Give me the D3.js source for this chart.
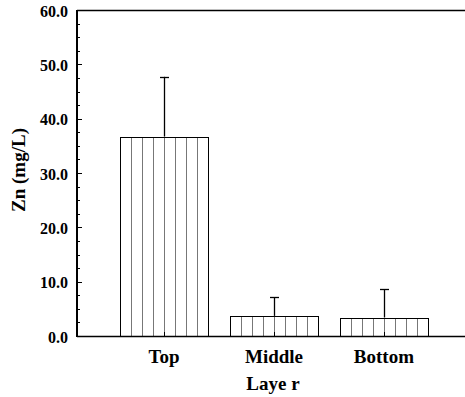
<!DOCTYPE html>
<html>
<head>
<meta charset="utf-8">
<script src="https://cdn.jsdelivr.net/npm/d3@7"></script>
<style>
	body { margin: 0; background: #fff; }
</style>
</head>
<body>
<svg id="chart" width="465" height="397" font-family="'Times New Roman', 'Liberation Serif', 'DejaVu Serif', serif" font-weight="bold"></svg>
<script>
// data
var layers = ["Top", "Middle", "Bottom"];
var zinc = [36.7, 3.7, 3.4];
var zincError = [11.0, 3.4, 5.2];
var yTicks = [0, 10, 20, 30, 40, 50, 60];

var svg = d3.select("#chart");

// plot box (plotTop, not "top": window.top is read-only)
var plotLeft = 77, plotTop = 10, plotBottom = 336;

var x = d3.scaleBand()
	.domain(layers)
	.range([plotLeft, 471])
	.paddingInner(0.196)
	.paddingOuter(0.39);

var y = d3.scaleLinear()
	.domain([0, 60])
	.range([plotBottom, plotTop]);

function barTop(i) {
	return Math.round(y(zinc[i]));
}

function barCentre(d) {
	return Math.round(x(d) + x.bandwidth() / 2) + 0.5;
}

// bars with vertical hatch lines
var bar = svg.selectAll(".bar")
	.data(layers)
	.enter()
	.append("g")
	.attr("class", "bar");

bar.append("rect")
	.attr("x", function(d) { return Math.round(x(d)) + 0.5; })
	.attr("y", function(d, i) { return barTop(i) + 0.5; })
	.attr("width", Math.round(x.bandwidth()))
	.attr("height", function(d, i) { return plotBottom - barTop(i); })
	.attr("fill", "#fff")
	.attr("stroke", "#000")
	.attr("stroke-width", 1);

bar.each(function(d, i) {
	var g = d3.select(this);
	for (var k = 1; k < 8; k++) {
		var hx = Math.round(x(d) + k * x.bandwidth() / 8) + 0.5;
		g.append("line")
			.attr("x1", hx).attr("x2", hx)
			.attr("y1", barTop(i) + 1)
			.attr("y2", plotBottom)
			.attr("stroke", "#777")
			.attr("stroke-width", 1);
	}
});

// error bars (upper half only)
bar.append("line")
	.attr("x1", barCentre)
	.attr("x2", barCentre)
	.attr("y1", function(d, i) { return y(zinc[i]); })
	.attr("y2", function(d, i) { return y(zinc[i] + zincError[i]); })
	.attr("stroke", "#000")
	.attr("stroke-width", 1.3);

bar.append("line")
	.attr("x1", function(d) { return barCentre(d) - 4.5; })
	.attr("x2", function(d) { return barCentre(d) + 4.5; })
	.attr("y1", function(d, i) { return Math.round(y(zinc[i] + zincError[i])) + 0.5; })
	.attr("y2", function(d, i) { return Math.round(y(zinc[i] + zincError[i])) + 0.5; })
	.attr("stroke", "#000")
	.attr("stroke-width", 1.3);

// small x ticks at category centres
svg.selectAll(".xtick")
	.data(layers)
	.enter()
	.append("line")
	.attr("class", "xtick")
	.attr("x1", barCentre)
	.attr("x2", barCentre)
	.attr("y1", plotBottom)
	.attr("y2", plotBottom - 4)
	.attr("stroke", "#000");

// y axis: inward ticks, major every 10, minor every 2.5
var yAxis = svg.append("g").attr("class", "axis axis--y");

yAxis.selectAll("line")
	.data(d3.range(0, 60.1, 2.5))
	.enter()
	.append("line")
	.attr("x1", plotLeft)
	.attr("x2", function(d) { return d % 10 === 0 ? plotLeft + 5 : plotLeft + 3; })
	.attr("y1", function(d) { return Math.round(y(d)) + 0.5; })
	.attr("y2", function(d) { return Math.round(y(d)) + 0.5; })
	.attr("stroke", "#000");

yAxis.selectAll("text")
	.data(yTicks)
	.enter()
	.append("text")
	.attr("x", 68)
	.attr("y", function(d) { return y(d); })
	.attr("dy", "0.42em")
	.attr("text-anchor", "end")
	.attr("font-size", 16)
	.text(function(d) { return d3.format(".1f")(d); });

// frame lines: left axis, top line, bottom axis
svg.append("line")
	.attr("x1", plotLeft).attr("x2", plotLeft)
	.attr("y1", plotTop).attr("y2", plotBottom + 1)
	.attr("stroke", "#000")
	.attr("stroke-width", 2);

svg.append("line")
	.attr("x1", plotLeft).attr("x2", 465)
	.attr("y1", plotTop + 0.5).attr("y2", plotTop + 0.5)
	.attr("stroke", "#000")
	.attr("stroke-width", 1.3);

svg.append("line")
	.attr("x1", plotLeft).attr("x2", 465)
	.attr("y1", plotBottom + 0.5).attr("y2", plotBottom + 0.5)
	.attr("stroke", "#000")
	.attr("stroke-width", 1.3);

// category labels
svg.selectAll(".catLabel")
	.data(layers)
	.enter()
	.append("text")
	.attr("class", "catLabel")
	.attr("x", function(d) { return x(d) + x.bandwidth() / 2; })
	.attr("y", 363)
	.attr("text-anchor", "middle")
	.attr("font-size", 19)
	.text(function(d) { return d; });

// axis titles
svg.append("text")
	.attr("x", 273)
	.attr("y", 390)
	.attr("text-anchor", "middle")
	.attr("font-size", 19)
	.text("Laye r");

svg.append("text")
	.attr("transform", "translate(25,170) rotate(-90)")
	.attr("text-anchor", "middle")
	.attr("font-size", 19)
	.text("Zn (mg/L)");
</script>
</body>
</html>
